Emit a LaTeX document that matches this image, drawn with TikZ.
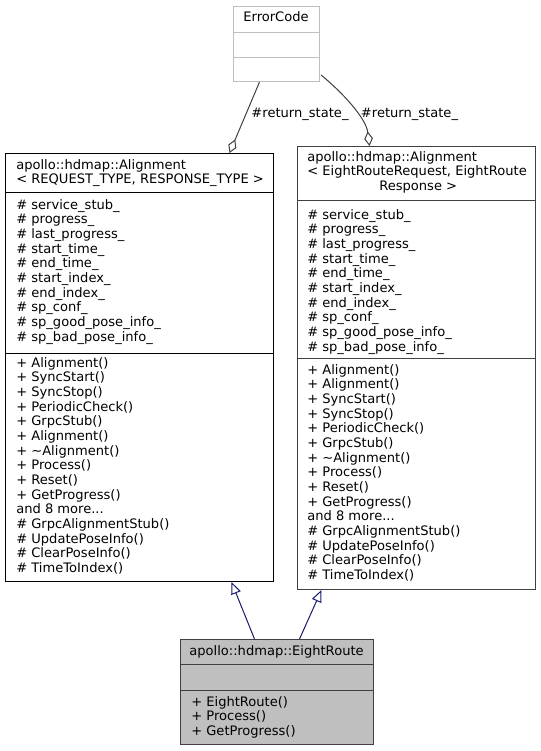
\documentclass[tikz,border=0pt]{standalone}
\usepackage{fontspec}
\setmainfont{DejaVu Sans}
\usetikzlibrary{arrows.meta,calc}
\definecolor{edgeblue}{HTML}{191970}
\definecolor{maingray}{HTML}{BFBFBF}
\definecolor{darkframe}{HTML}{404040}
\def\umlfont{\fontsize{9.8pt}{11pt}\selectfont}

\begin{document}
\begin{tikzpicture}[x=0.75pt,y=-0.75pt,
	classbox/.style={draw, anchor=north west, inner sep=0pt, line width=0.75pt},
	member/.style={anchor=north west, inner sep=0pt, align=left, font=\umlfont},
	caption/.style={anchor=base, inner sep=0pt, font=\umlfont},
	inherit/.style={draw=edgeblue, line width=0.75pt, -{Triangle[open,length=9pt,width=7.5pt]}},
	aggreg/.style={draw=darkframe, line width=0.75pt, {Diamond[open,length=11pt,width=6.5pt]}-}]
		%%%%% START %%%%%
		\useasboundingbox (0,0) rectangle (541,751);
		
		% ErrorCode
		\node[classbox, draw=maingray, minimum width=64.5pt, minimum height=56.25pt] (errorcode) at (233,6) {};
		\draw[maingray, line width=0.75pt] (errorcode.west |- 0,32) -- (errorcode.east |- 0,32);
		\draw[maingray, line width=0.75pt] (errorcode.west |- 0,57) -- (errorcode.east |- 0,57);
		\node[caption] (errorcode_title) at (276,21) {ErrorCode};
		
		% Alignment< REQUEST_TYPE, RESPONSE_TYPE >
		\node[classbox, minimum width=201pt, minimum height=321pt] (align_req) at (5,153) {};
		\draw[line width=0.75pt] (align_req.west |- 0,192) -- (align_req.east |- 0,192);
		\draw[line width=0.75pt] (align_req.west |- 0,353) -- (align_req.east |- 0,353);
		\node[member] (req_title) at (16,159) {apollo::hdmap::Alignment\\< REQUEST\_TYPE, RESPONSE\_TYPE >};
		\node[member] (req_attr) at (16,199) {\# service\_stub\_\\\# progress\_\\\# last\_progress\_\\\# start\_time\_\\\# end\_time\_\\\# start\_index\_\\\# end\_index\_\\\# sp\_conf\_\\\# sp\_good\_pose\_info\_\\\# sp\_bad\_pose\_info\_};
		\node[member] (req_meth) at (16,357) {+ Alignment()\\+ SyncStart()\\+ SyncStop()\\+ PeriodicCheck()\\+ GrpcStub()\\+ Alignment()\\+ \textasciitilde Alignment()\\+ Process()\\+ Reset()\\+ GetProgress()\\and 8 more...\\\# GrpcAlignmentStub()\\\# UpdatePoseInfo()\\\# ClearPoseInfo()\\\# TimeToIndex()};
		
		% Alignment< EightRouteRequest, EightRouteResponse >
		\node[classbox, draw=darkframe, minimum width=178.5pt, minimum height=332.25pt] (align_eight) at (297,146) {};
		\draw[darkframe, line width=0.75pt] (align_eight.west |- 0,200) -- (align_eight.east |- 0,200);
		\draw[darkframe, line width=0.75pt] (align_eight.west |- 0,358) -- (align_eight.east |- 0,358);
		\node[member] (eight_title) at (307,151) {apollo::hdmap::Alignment\\< EightRouteRequest, EightRoute\\\hspace*{54pt}Response >};
		\node[member] (eight_attr) at (307,209) {\# service\_stub\_\\\# progress\_\\\# last\_progress\_\\\# start\_time\_\\\# end\_time\_\\\# start\_index\_\\\# end\_index\_\\\# sp\_conf\_\\\# sp\_good\_pose\_info\_\\\# sp\_bad\_pose\_info\_};
		\node[member] (eight_meth) at (307,364) {+ Alignment()\\+ Alignment()\\+ SyncStart()\\+ SyncStop()\\+ PeriodicCheck()\\+ GrpcStub()\\+ \textasciitilde Alignment()\\+ Process()\\+ Reset()\\+ GetProgress()\\and 8 more...\\\# GrpcAlignmentStub()\\\# UpdatePoseInfo()\\\# ClearPoseInfo()\\\# TimeToIndex()};
		
		% EightRoute
		\node[classbox, draw=darkframe, fill=maingray, minimum width=144.75pt, minimum height=78.75pt] (eightroute) at (180,639) {};
		\draw[darkframe, line width=0.75pt] (eightroute.west |- 0,664) -- (eightroute.east |- 0,664);
		\draw[darkframe, line width=0.75pt] (eightroute.west |- 0,690) -- (eightroute.east |- 0,690);
		\node[caption] (route_title) at (276.5,655) {apollo::hdmap::EightRoute};
		\node[member] (route_meth) at (191,696) {+ EightRoute()\\+ Process()\\+ GetProgress()};
		
		% return_state_ members
		\draw[aggreg] ($(align_req.north)+(90,0)$) -- ($(errorcode.south)+(-17,0)$);
		\draw[aggreg] ($(align_eight.north)+(-47,0)$) .. controls (366,118) and (342,92) .. ($(errorcode.south east)+(1,-7)$);
		\node[caption] (req_label) at (300,117) {\#return\_state\_};
		\node[caption] (eight_label) at (409.5,117) {\#return\_state\_};
		
		% base classes
		\draw[inherit] ($(eightroute.north)+(-22.5,0)$) -- ($(align_req.south)+(92,0)$);
		\draw[inherit] ($(eightroute.north)+(22.5,0)$) -- ($(align_eight.south)+(-95,0)$);
		
		%%%%% END %%%%%
\end{tikzpicture}
\end{document}
